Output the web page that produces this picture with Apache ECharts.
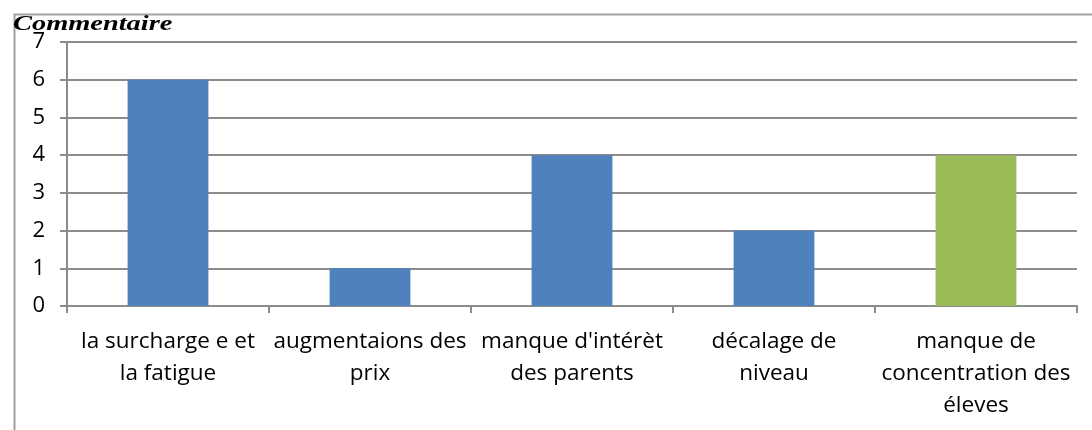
<!DOCTYPE html>
<html>
<head>
<meta charset="utf-8">
<script src="https://cdn.jsdelivr.net/npm/echarts@6/dist/echarts.min.js"></script>
<style>html,body{margin:0;padding:0;background:#fff}#c{width:1092px;height:430px}</style>
</head>
<body>
<div id="c"></div>
<script>
const titleText = "Commentaire";
const categories = [
  "la surcharge e et\nla fatigue",
  "augmentaions des\nprix",
  "manque d'intérèt\ndes parents",
  "décalage de\nniveau",
  "manque de\nconcentration des\néleves"
];
const values = [6, 1, 4, 2, 4];
const barColors = ["#4F81BD", "#4F81BD", "#4F81BD", "#4F81BD", "#9BBB59"];
const yTicks = [0, 1, 2, 3, 4, 5, 6, 7];

const chart = echarts.init(document.getElementById('c'), null, {renderer: 'canvas'});
chart.setOption({
  animation: false,
  backgroundColor: '#fff',
  graphic: [{
    type: 'rect', left: 12, top: 12, silent: true, z: 0,
    shape: {width: 1200, height: 600},
    style: {fill: 'none', stroke: '#a0a0a0', lineWidth: 2}
  }, {
    type: 'text', x: 13, y: 15, scaleX: 1.42, z: 10,
    style: {text: titleText, fontFamily: 'Liberation Serif', fontStyle: 'italic', fontWeight: 'bold', fontSize: 20, fill: '#000'}
  }],
  grid: {left: 67, right: 15, top: 42, bottom: 124, containLabel: false},
  xAxis: {
    type: 'category', data: categories,
    axisLine: {lineStyle: {color: '#8c8c8c', width: 2}},
    axisTick: {show: true, length: 7, alignWithLabel: false, lineStyle: {color: '#8c8c8c', width: 2}},
    axisLabel: {interval: 0, margin: 20, color: '#000', fontFamily: 'Open Sans', fontSize: 22.5, lineHeight: 32, align: 'center'}
  },
  yAxis: {
    type: 'value', min: 0, max: yTicks[yTicks.length - 1], interval: 1,
    axisLine: {show: true, lineStyle: {color: '#8c8c8c', width: 2}},
    axisTick: {show: true, length: 7, lineStyle: {color: '#8c8c8c', width: 2}},
    splitLine: {show: true, lineStyle: {color: '#8c8c8c', width: 2}},
    axisLabel: {margin: 22, color: '#000', fontFamily: 'Open Sans', fontSize: 22}
  },
  series: [{
    type: 'bar',
    data: values.map((v, i) => ({value: v, itemStyle: {color: barColors[i]}})),
    barWidth: '40%'
  }]
});
</script>
</body>
</html>
